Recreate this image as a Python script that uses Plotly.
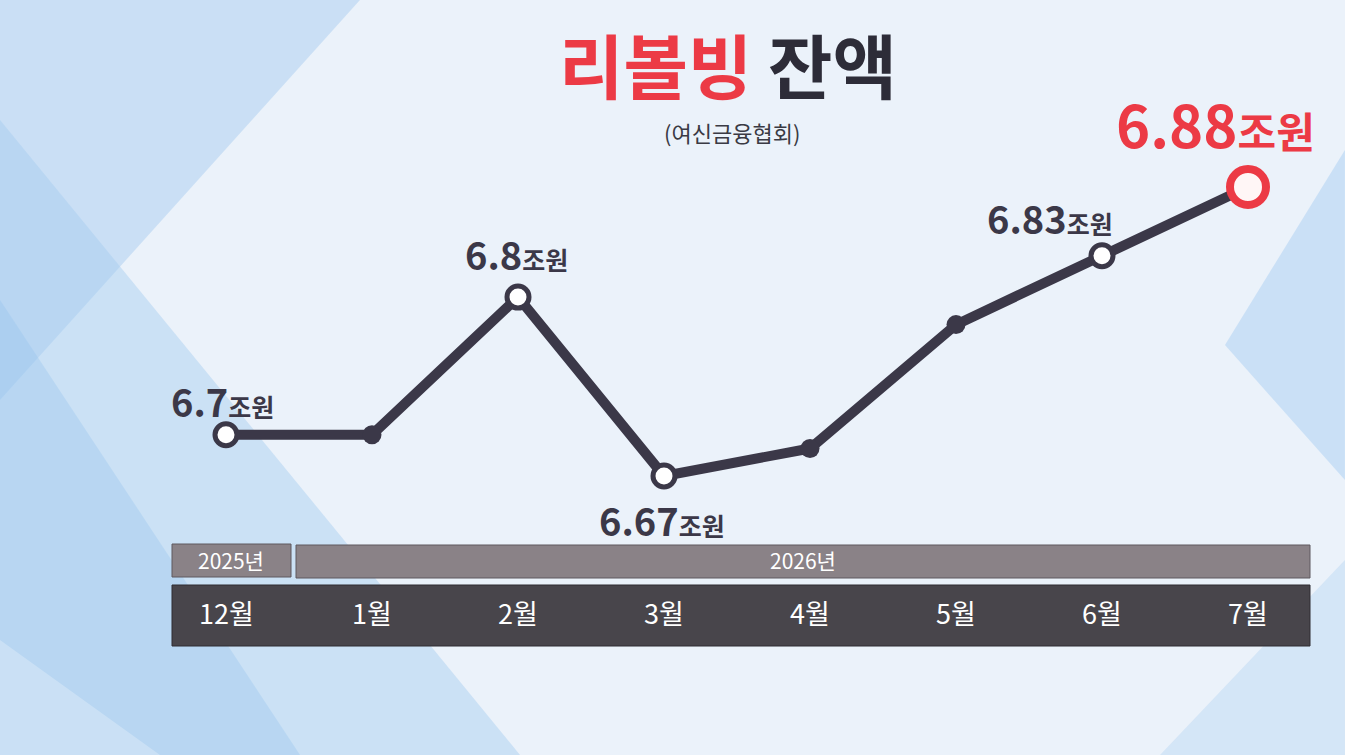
import plotly.graph_objects as go

# data (unit: 조원)
months = ["12월", "1월", "2월", "3월", "4월", "5월", "6월", "7월"]
balance = [6.70, 6.70, 6.80, 6.67, 6.69, 6.78, 6.83, 6.88]
labels = ["6.7", "", "6.8", "6.67", "", "", "6.83", "6.88"]
years = ["2025년", "2026년"]

TITLE_RED = "리볼빙"
TITLE_DARK = "잔액"
SOURCE = "(여신금융협회)"
UNIT = "조원"

NAVY = "#3b3848"
RED = "#ec3a45"
FONT = "Noto Sans CJK KR"

W, H = 1345, 755
ML, MR, MT, MB = 153, 24, 100, 95
PW, PH = W - ML - MR, H - MT - MB


def px(p):
    return (p - ML) / PW


def py(p):
    return (H - MB - p) / PH


def poly(pts):
    return "M " + " L ".join("%.4f %.4f" % (px(x), py(y)) for x, y in pts) + " Z"


fig = go.Figure()

# -- background: pale centre, soft blue diagonal bands at the sides ---------
bg = [
    ([(0, 0), (360, 0), (0, 400)], "rgba(175,208,240,0.55)"),
    ([(0, 120), (0, 755), (520, 755)], "rgba(165,203,240,0.45)"),
    ([(0, 300), (0, 755), (300, 755)], "rgba(150,195,238,0.35)"),
    ([(0, 640), (0, 755), (160, 755)], "rgba(255,255,255,0.25)"),
    ([(1345, 150), (1345, 480), (1225, 345)], "rgba(175,210,242,0.55)"),
    ([(1345, 560), (1345, 755), (1160, 755)], "rgba(190,218,244,0.5)"),
]
for pts, col in bg:
    fig.add_shape(type="path", path=poly(pts), xref="paper", yref="paper",
                  fillcolor=col, line_width=0, layer="below")

# -- year / month band -----------------------------------------------------
band = dict(xref="paper", yref="paper", layer="below")
fig.add_shape(type="rect", x0=px(172), x1=px(291), y0=py(577), y1=py(544),
              fillcolor="#8a8287", line=dict(color="#5e585e", width=1), **band)
fig.add_shape(type="rect", x0=px(296), x1=px(1310), y0=py(578), y1=py(545),
              fillcolor="#8a8287", line=dict(color="#5e585e", width=1), **band)
fig.add_shape(type="rect", x0=px(172), x1=px(1310), y0=py(646), y1=py(585),
              fillcolor="#48454b", line=dict(color="#2e2c33", width=1), **band)

year_centers = [px(231), px(803)]
for yr, xc in zip(years, year_centers):
    fig.add_annotation(x=xc, y=py(560), xref="paper", yref="paper", text=yr,
                       xanchor="center", yanchor="middle", showarrow=False,
                       font=dict(family=FONT, size=21, color="white"))
for i, m in enumerate(months):
    fig.add_annotation(x=i, y=py(612), xref="x", yref="paper", text=m,
                       xanchor="center", yanchor="middle", showarrow=False,
                       font=dict(family=FONT, size=27, color="white"))

# -- line + markers ----------------------------------------------------------
x_idx = list(range(len(months)))
fig.add_trace(go.Scatter(
    x=x_idx, y=balance, mode="lines",
    line=dict(color=NAVY, width=10), hoverinfo="skip", showlegend=False,
))
last = len(balance) - 1
sizes = [22 if lab else 19 for lab in labels]
sizes[last] = 36
fills = ["white" if lab else NAVY for lab in labels]
fills[last] = "#fff6f6"
edges = [NAVY] * len(labels)
edges[last] = RED
widths = [5 if lab else 0 for lab in labels]
widths[last] = 8
fig.add_trace(go.Scatter(
    x=x_idx, y=balance, mode="markers",
    marker=dict(size=sizes, color=fills, opacity=1,
                line=dict(color=edges, width=widths)),
    customdata=months, hovertemplate="%{customdata}: %{y:.2f}조원<extra></extra>",
    showlegend=False,
))

# value labels (offsets follow the original graphic's placement)
offsets = {0: (-4, 34), 2: (-2, 44), 3: (-2, -44), 6: (-52, 38), 7: (-33, 64)}
for i, lab in enumerate(labels):
    if not lab:
        continue
    dx, dy = offsets[i]
    if i == last:
        txt = "<b>%s<span style='font-size:42px'>%s</span></b>" % (lab, UNIT)
        fnt = dict(family=FONT, size=58, color=RED)
    else:
        txt = "<b>%s<span style='font-size:25px'>%s</span></b>" % (lab, UNIT)
        fnt = dict(family=FONT, size=38, color=NAVY)
    fig.add_annotation(x=i, y=balance[i], text=txt, showarrow=False,
                       xanchor="center", yanchor="middle",
                       xshift=dx, yshift=dy, font=fnt)

# -- title -------------------------------------------------------------------
fig.add_annotation(
    x=px(728), y=py(63), xref="paper", yref="paper", showarrow=False,
    xanchor="center", yanchor="middle",
    text="<b><span style='color:%s'>%s</span> %s</b>" % (RED, TITLE_RED, TITLE_DARK),
    font=dict(family=FONT, size=70, color="#2d2c38"),
)
fig.add_annotation(
    x=px(732), y=py(132), xref="paper", yref="paper", showarrow=False,
    xanchor="center", yanchor="middle",
    text=SOURCE, font=dict(family=FONT, size=22, color="#3a3a44"),
)

fig.update_xaxes(range=[-0.5, 7.5], visible=False, fixedrange=True)
fig.update_yaxes(range=[6.67 - (H - MB - 476) / 1376, 6.88 + (187 - MT) / 1376],
                 visible=False, fixedrange=True)
fig.update_layout(
    width=W, height=H,
    margin=dict(l=ML, r=MR, t=MT, b=MB),
    paper_bgcolor="#ebf2fa",
    plot_bgcolor="rgba(0,0,0,0)",
    showlegend=False,
)

fig.write_html(
    "out.html",
    config={"displayModeBar": False},
    post_script="document.body.style.margin='0';document.body.style.overflow='hidden';",
)
